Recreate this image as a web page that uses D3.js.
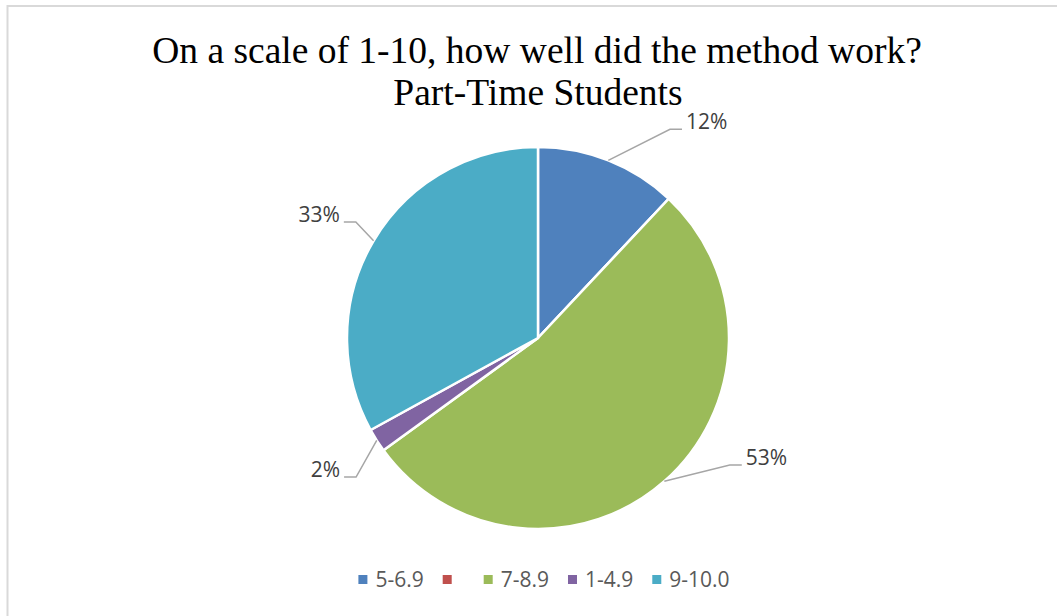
<!DOCTYPE html>
<html>
<head>
<meta charset="utf-8">
<script src="https://cdn.jsdelivr.net/npm/d3@7"></script>
<style>
  html, body { margin: 0; padding: 0; background: #fff; }
</style>
</head>
<body>
<div id="app"></div>
<script>
const categories = ["5-6.9", "", "7-8.9", "1-4.9", "9-10.0"];
const values = [12, 0, 53, 2, 33];
const labels = ["12%", "", "53%", "2%", "33%"];
const colors = ["#4f81bd", "#c0504d", "#9bbb59", "#8064a2", "#4bacc6"];

// where Excel put each label elbow (degrees clockwise from top, distance from centre)
const elbowAngle = [32.3, 0, 123.5, 232.6, 302.5];
const elbowRadius = [247, 0, 230, 229, 216];

const width = 1057, height = 616;
const cx = 538, cy = 338, r = 191;

const svg = d3
  .create("svg")
  .attr("width", width)
  .attr("height", height)
  .attr("viewBox", [0, 0, width, height]);

document.getElementById("app").append(svg.node());

svg.append("rect").attr("width", width).attr("height", height).attr("fill", "#fff");

// chart frame, only top and left edges show in the crop
svg
  .append("path")
  .attr("d", `M7.5,${height} V6 H${width}`)
  .attr("fill", "none")
  .attr("stroke", "#d9d9d9")
  .attr("stroke-width", 2);

svg
  .append("text")
  .attr("x", 537)
  .attr("y", 63)
  .attr("text-anchor", "middle")
  .attr("font-family", "Liberation Serif, Times New Roman, serif")
  .attr("font-size", 37.5)
  .attr("fill", "#000")
  .text("On a scale of 1-10, how well did the method work?");

svg
  .append("text")
  .attr("x", 538)
  .attr("y", 105)
  .attr("text-anchor", "middle")
  .attr("font-family", "Liberation Serif, Times New Roman, serif")
  .attr("font-size", 37.5)
  .attr("fill", "#000")
  .text("Part-Time Students");

const pie = d3.pie().sort(null).value((d) => d)(values);
const arc = d3.arc().innerRadius(0).outerRadius(r);

const g = svg.append("g").attr("transform", `translate(${cx},${cy})`);

g.selectAll("path.slice")
  .data(pie)
  .join("path")
  .attr("class", "slice")
  .attr("d", arc)
  .attr("fill", (d, i) => colors[i])
  .attr("stroke", "#fff")
  .attr("stroke-width", 2.5)
  .attr("stroke-linejoin", "round");

function toRad(a) {
  return a * (Math.PI / 180);
}

pie.forEach((d, i) => {
  if (!labels[i]) return;
  const mid = (d.startAngle + d.endAngle) / 2;
  const x0 = Math.sin(mid) * r;
  const y0 = -Math.cos(mid) * r;
  const ex = Math.sin(toRad(elbowAngle[i])) * elbowRadius[i];
  const ey = -Math.cos(toRad(elbowAngle[i])) * elbowRadius[i];
  const right = ex > 0;
  const x2 = ex + (right ? 12 : -12);

  g.append("path")
    .attr("d", `M${x0},${y0} L${ex},${ey} L${x2},${ey}`)
    .attr("fill", "none")
    .attr("stroke", "#a6a6a6")
    .attr("stroke-width", 1.5);

  g.append("text")
    .attr("x", x2 + (right ? 4 : -4))
    .attr("y", ey)
    .attr("text-anchor", right ? "start" : "end")
    .attr("font-family", "Open Sans, sans-serif")
    .attr("font-size", 21)
    .attr("fill", "#404040")
    .text(labels[i]);
});

// legend
const legend = svg.append("g");
const gap = 19;
let lx = 0;
categories.forEach((c, i) => {
  const item = legend.append("g").attr("transform", `translate(${lx},0)`);
  item
    .append("rect")
    .attr("x", 0)
    .attr("y", -5)
    .attr("width", 9)
    .attr("height", 9)
    .attr("fill", colors[i]);
  const t = item
    .append("text")
    .attr("x", 17)
    .attr("y", 7)
    .attr("font-family", "Open Sans, sans-serif")
    .attr("font-size", 21)
    .attr("fill", "#595959")
    .text(c);
  const w = c ? t.node().getComputedTextLength() : 5;
  lx += 17 + w + gap;
});

const lw = lx - gap;
legend.attr("transform", `translate(${354 + (380 - lw) / 2},580)`);
</script>
</body>
</html>
